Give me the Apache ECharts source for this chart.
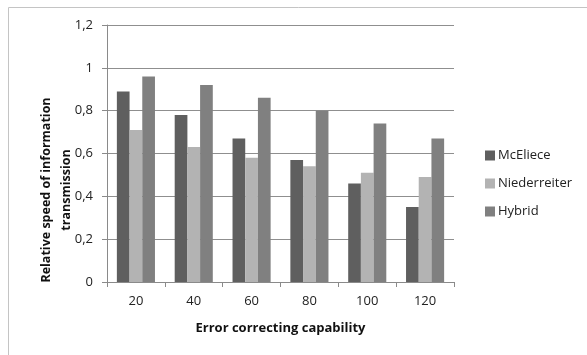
<!DOCTYPE html>
<html>
<head>
<meta charset="utf-8">
<script src="https://cdn.jsdelivr.net/npm/echarts@6/dist/echarts.min.js"></script>
<style>
html,body{margin:0;padding:0;background:#fff;}
#chart{width:587px;height:355px;}
</style>
</head>
<body>
<div id="chart"></div>
<script>
var categories = ['20', '40', '60', '80', '100', '120'];
var mcEliece = [0.89, 0.78, 0.67, 0.57, 0.46, 0.35];
var niederreiter = [0.71, 0.63, 0.58, 0.54, 0.51, 0.49];
var hybrid = [0.96, 0.92, 0.86, 0.80, 0.74, 0.67];
var seriesNames = ['McEliece', 'Niederreiter', 'Hybrid'];
var xTitle = 'Error correcting capability';
var yTitle = 'Relative speed of information\ntransmission';

var FONT = '"Open Sans", "DejaVu Sans", sans-serif';
var chart = echarts.init(document.getElementById('chart'), null, {renderer: 'canvas'});
var colors = ['#5f5f5f', '#b3b3b3', '#808080'];
function bar(name, data, color) {
  return {
    name: name, type: 'bar', data: data, barWidth: 12.7, barGap: '0%',
    itemStyle: {color: color}, animation: false
  };
}
chart.setOption({
  animation: false,
  textStyle: {fontFamily: FONT},
  grid: {left: 107, right: 133, top: 25, bottom: 73, containLabel: false},
  legend: {
    orient: 'vertical', left: 480, top: 144, itemWidth: 10, itemHeight: 10, itemGap: 15,
    icon: 'rect', data: seriesNames,
    textStyle: {fontFamily: FONT, fontSize: 13, color: '#222', padding: [0, 0, 0, -2]}
  },
  xAxis: {
    type: 'category', data: categories,
    axisLine: {lineStyle: {color: '#8a8a8a', width: 1}},
    axisTick: {show: true, length: 5, alignWithLabel: false, lineStyle: {color: '#8a8a8a'}},
    axisLabel: {fontFamily: FONT, fontSize: 13, color: '#222', margin: 13},
    splitLine: {show: false}
  },
  yAxis: {
    type: 'value', min: 0, max: 1.2, interval: 0.2,
    axisLine: {show: true, lineStyle: {color: '#8a8a8a', width: 1}},
    axisTick: {show: true, length: 5, lineStyle: {color: '#8a8a8a'}},
    axisLabel: {
      fontFamily: FONT, fontSize: 13, color: '#222', margin: 14,
      formatter: function (v) { return String(Math.round(v * 10) / 10).replace('.', ','); }
    },
    splitLine: {show: true, lineStyle: {color: '#8f8f8f', width: 1}}
  },
  graphic: [
    {type: 'rect', shape: {x: 8.5, y: 7.5, width: 1000, height: 1000},
     style: {fill: 'none', stroke: '#c4c4c4', lineWidth: 1}, silent: true},
    {type: 'text', x: 56, y: 190, rotation: Math.PI / 2,
     style: {text: yTitle, fontFamily: FONT, fontSize: 12.5, fontWeight: 'bold', fill: '#111',
             textAlign: 'center', textVerticalAlign: 'middle', lineHeight: 20}},
    {type: 'text', x: 280.5, y: 328,
     style: {text: xTitle, fontFamily: FONT, fontSize: 13, fontWeight: 'bold', fill: '#111',
             textAlign: 'center', textVerticalAlign: 'middle'}}
  ],
  series: [
    bar(seriesNames[0], mcEliece, colors[0]),
    bar(seriesNames[1], niederreiter, colors[1]),
    bar(seriesNames[2], hybrid, colors[2])
  ]
});
</script>
</body>
</html>
